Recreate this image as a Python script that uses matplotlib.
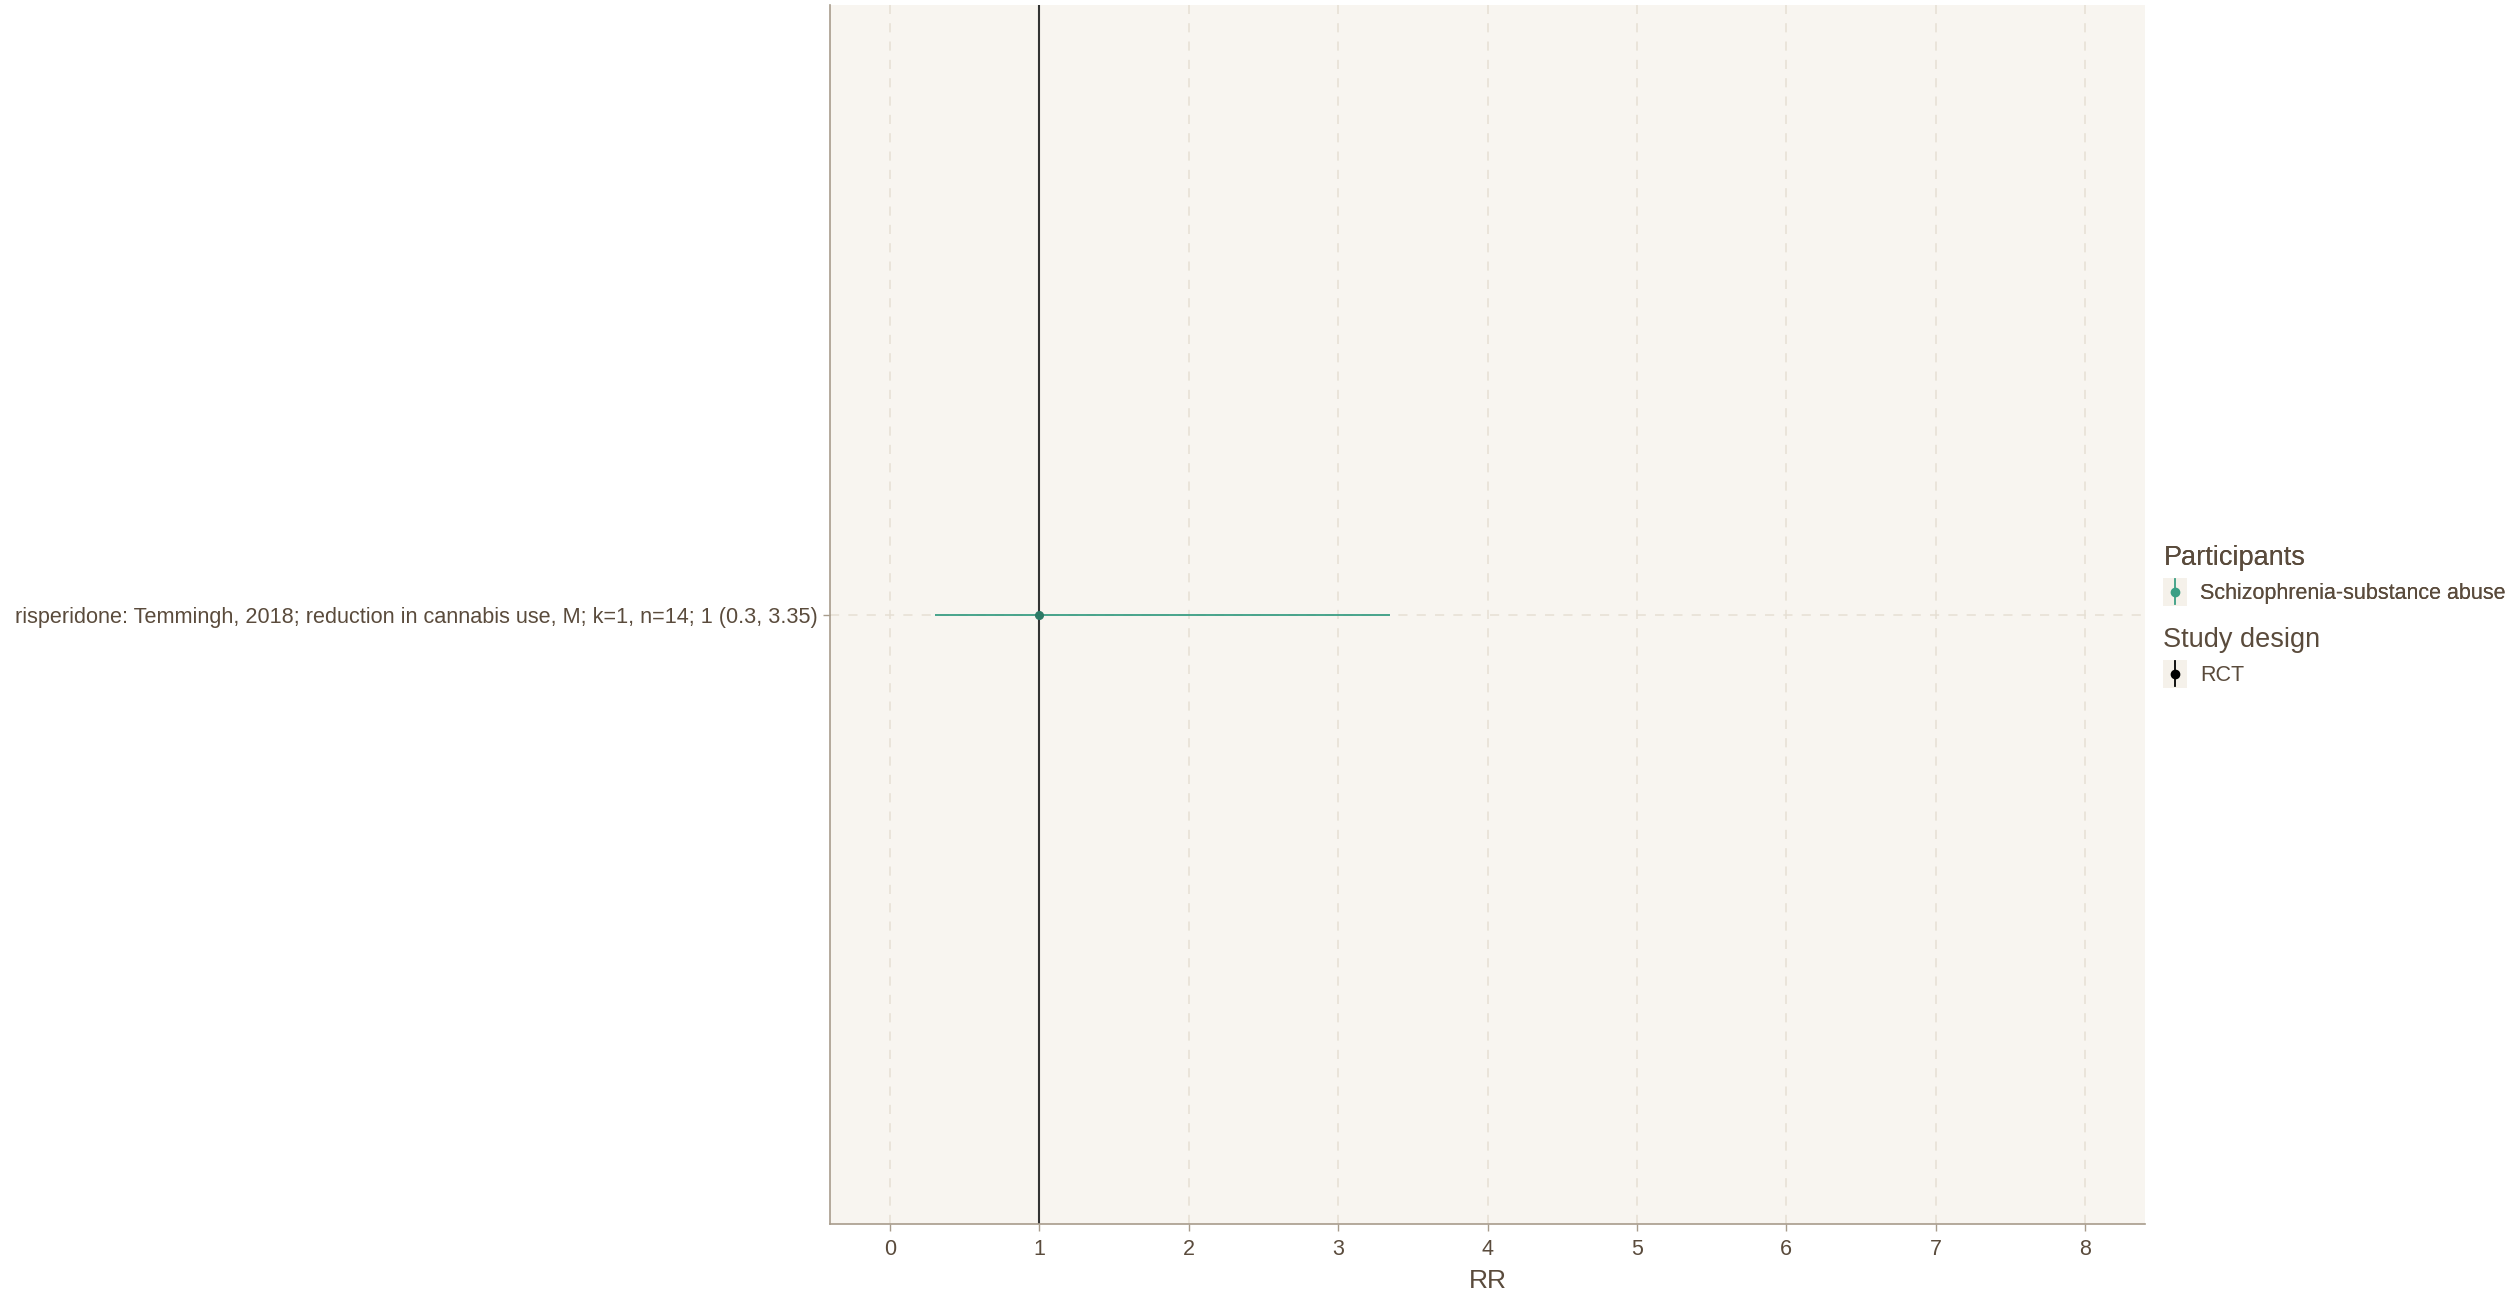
import numpy as np
import matplotlib.pyplot as plt
from matplotlib.lines import Line2D
from matplotlib.patches import Rectangle
from matplotlib.legend_handler import HandlerBase

plt.rcParams['font.family'] = ['Liberation Sans', 'DejaVu Sans']

# study row
labels = ["risperidone: Temmingh, 2018; reduction in cannabis use, M; k=1, n=14; 1 (0.3, 3.35)"]
rr = [1.0]
ci_low = [0.3]
ci_high = [3.35]
participants = ["Schizophrenia-substance abuse"]
design = ["RCT"]
xticks = [0, 1, 2, 3, 4, 5, 6, 7, 8]

text_col = "#5a4b3c"
axis_col = "#a89c8c"
grid_col = "#e6e0d4"
panel_bg = "#f8f5f0"
key_bg = "#f5f1ea"
teal = "#3a9e84"
teal_dark = "#2c7a66"


class PointRangeKey(HandlerBase):
    # vertical pointrange glyph on a light key box
    def create_artists(self, legend, orig_handle, xdescent, ydescent, width, height,
                       fontsize, trans):
        col = orig_handle.get_color()
        box = Rectangle((-xdescent, -ydescent - 3), width, height + 6,
                        facecolor=key_bg, edgecolor="none", transform=trans)
        cx = -xdescent + width / 2
        vl = Line2D([cx, cx], [-ydescent - 2, -ydescent + height + 2], color=col,
                    lw=1.3, transform=trans)
        pt = Line2D([cx], [-ydescent + height / 2], marker="o", ms=6, color=col,
                    lw=0, transform=trans)
        return [box, vl, pt]


W, H = 2509, 1298
fig = plt.figure(figsize=(W / 100, H / 100), dpi=100)
left, right, top, bottom = 830, 2145, 5, 1224
ax = fig.add_axes([left / W, (H - bottom) / H, (right - left) / W, (bottom - top) / H])
ax.set_facecolor(panel_bg)

y = np.arange(1, len(labels) + 1)
ax.set_xlim(-0.4, 8.4)
ax.set_ylim(0.4, len(labels) + 0.6)

for xt in xticks:
    ax.axvline(xt, color=grid_col, lw=1.1, ls=(0, (6, 6)), zorder=0)
for yy in y:
    ax.axhline(yy, color=grid_col, lw=1.1, ls=(0, (6, 6)), zorder=0)

ax.axvline(1, color="#333333", lw=1.5, zorder=2)
ax.hlines(y, ci_low, ci_high, color=teal, lw=1.3, zorder=3)
ax.plot(rr, y, "o", color=teal_dark, ms=5.5, zorder=4)

ax.set_xticks(xticks)
ax.set_xticklabels([str(t) for t in xticks])
ax.set_yticks(y)
ax.set_yticklabels(labels)
ax.tick_params(axis="both", colors=axis_col, labelcolor=text_col, labelsize=15.5,
               length=5, width=1)
ax.tick_params(axis="y", labelsize=15.6)
ax.tick_params(axis="x", pad=6)
ax.set_xlabel("RR", color=text_col, fontsize=19, labelpad=6)

for s in ["top", "right"]:
    ax.spines[s].set_visible(False)
for s in ["left", "bottom"]:
    ax.spines[s].set_color(axis_col)
    ax.spines[s].set_linewidth(1.2)

# legends
handler = PointRangeKey()
handles_p = [Line2D([0], [0], color=teal) for _ in participants]
leg1 = fig.legend(handles_p, participants, title="Participants", loc="upper left",
                  bbox_to_anchor=(2144 / W, 1 - 526 / H), frameon=False,
                  fontsize=15.5, title_fontsize=19.5, handlelength=1.1,
                  handleheight=1.0, handletextpad=0.6, alignment="left",
                  labelcolor=text_col, handler_map={Line2D: handler})
leg1.get_title().set_color(text_col)
handles_d = [Line2D([0], [0], color="black") for _ in design]
leg2 = fig.legend(handles_d, design, title="Study design", loc="upper left",
                  bbox_to_anchor=(2144 / W, 1 - 608 / H), frameon=False,
                  fontsize=15.5, title_fontsize=19.5, handlelength=1.1,
                  handleheight=1.0, handletextpad=0.6, alignment="left",
                  labelcolor=text_col, handler_map={Line2D: handler})
leg2.get_title().set_color(text_col)
fig.add_artist(leg1)

fig.savefig("out.png", dpi=100)
